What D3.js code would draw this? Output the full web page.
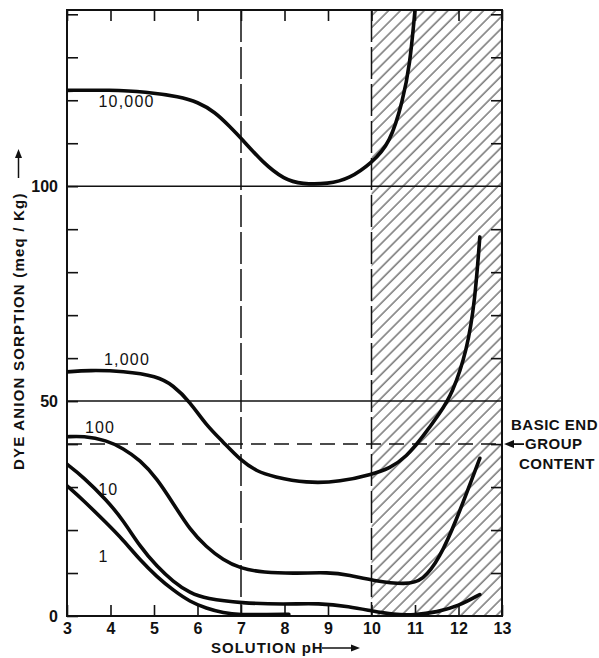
<!DOCTYPE html>
<html>
<head>
<meta charset="utf-8">
<script src="https://cdn.jsdelivr.net/npm/d3@7"></script>
<style>
  body { margin: 0; background: #fff; }
  text { font-family: "Liberation Sans", Arial, sans-serif; fill: #111; }
</style>
</head>
<body>
<div id="chart"></div>
<script>
//////////////////////////////////////////////
// Data //////////////////////////////////////
//////////////////////////////////////////////
// [pH, sorption]
var curve10000 = [[3,122.3],[4,122.4],[4.8,122],[5.6,120.8],[6,119.6],[6.4,117.3],[6.75,113.8],[7,111.2],
  [7.5,105.5],[8,101.5],[8.4,100.5],[9,100.5],[9.5,101.8],[10,105.4],[10.43,110],[10.72,120],[10.88,128],[11.0,141]];
var curve1000 = [[3,56.8],[3.5,57.2],[4.3,57],[5.07,55.8],[5.44,53.7],[5.83,49.8],[6.2,44.4],[6.59,40.5],[6.98,36.3],
  [7.37,33.6],[7.74,32.4],[8.5,30.9],[9.28,31.2],[10.03,33],[10.42,34.4],[10.8,37],[11.18,41.7],[11.57,47.2],
  [11.85,51.5],[12.2,61.9],[12.38,73.5],[12.49,88.2]];
var curve100 = [[3,41.7],[3.37,41.9],[3.91,40.9],[4.29,39],[4.68,36.3],[5.07,32],[5.44,26.2],[5.83,20],[6.2,16.1],
  [6.59,13],[6.98,11.1],[7.5,10.1],[8.3,9.9],[9.0,10.2],[9.5,9.5],[10.03,8.2],[10.8,7.3],[11.18,8.2],[11.57,13.5],
  [11.95,22.3],[12.33,32.4],[12.49,36.7]];
var curve10 = [[3,35.3],[3.37,32.4],[3.91,27],[4.29,22.3],[4.68,16.1],[5.07,11.5],[5.44,8],[5.83,5.3],[6.2,4],
  [7,3],[8,2.7],[8.8,3.0],[9.5,2.2],[10,1.2],[10.5,0.3],[11,0.2],[11.5,0.9],[12,2.3],[12.49,5]];
var curve1 = [[3,30.3],[3.37,27],[3.91,21.6],[4.29,17.7],[4.68,13],[5.07,9.1],[5.44,6],[5.83,3.3],[6.2,1.8],
  [6.59,0.7],[7,0.3],[7.5,0.3],[8.1,0.4]];

var curveLabels = ["10,000", "1,000", "100", "10", "1"];
var labelPos = [[4.37, 119.7], [4.38, 59.6], [3.76, 43.8], [3.95, 29.5], [3.84, 13.8]]; // pH, sorption at label centre

var xTicks = [3,4,5,6,7,8,9,10,11,12,13];
var yTickMarks = [10,20,30,40,60,70,80,90,110,120,130,140];
var yTickLabels = [0, 50, 100];
var solidGrid = [50, 100];
var basicEndGroup = 40;
var dashedPH = [7, 10];
var hatchRange = [10, 13];

//////////////////////////////////////////////
// Chart Config /////////////////////////////
//////////////////////////////////////////////
var margin = {top: 10, right: 97, bottom: 42, left: 67};
var width = 599 - margin.left - margin.right,
    height = 658 - margin.top - margin.bottom;

var xScale = d3.scaleLinear().domain([3, 13]).range([0, width]);
var yScale = d3.scaleLinear().domain([0, 141]).range([height, 0]);

var svg = d3.select("#chart").append("svg")
    .attr("width", 599).attr("height", 658);

var defs = svg.append("defs");
var hatch = defs.append("pattern")
    .attr("id", "hatch")
    .attr("patternUnits", "userSpaceOnUse")
    .attr("width", 8.4).attr("height", 10)
    .attr("patternTransform", "rotate(45)");
hatch.append("line")
    .attr("x1", 1).attr("y1", 0).attr("x2", 1).attr("y2", 10)
    .style("stroke", "#111").style("stroke-width", 0.9);

var artboard = svg.append("g")
    .attr("transform", "translate(" + margin.left + "," + margin.top + ")");

// hatched region
artboard.append("rect")
    .attr("x", xScale(hatchRange[0])).attr("y", 0)
    .attr("width", xScale(hatchRange[1]) - xScale(hatchRange[0]))
    .attr("height", height)
    .style("fill", "url(#hatch)");

// solid horizontal lines
artboard.selectAll(".grid").data(solidGrid).enter().append("line")
    .attr("x1", 0).attr("x2", width)
    .attr("y1", d => yScale(d)).attr("y2", d => yScale(d))
    .style("stroke", "#111").style("stroke-width", 1.5);

// basic end group content dashed line
artboard.append("line")
    .attr("x1", 0).attr("x2", width)
    .attr("y1", yScale(basicEndGroup)).attr("y2", yScale(basicEndGroup))
    .style("stroke", "#111").style("stroke-width", 1.5)
    .style("stroke-dasharray", "15,8");

// vertical dashed lines
artboard.selectAll(".vdash").data(dashedPH).enter().append("line")
    .attr("x1", d => xScale(d)).attr("x2", d => xScale(d))
    .attr("y1", 0).attr("y2", height)
    .style("stroke", "#111").style("stroke-width", 1.5)
    .style("stroke-dasharray", "32,5");

// axes with inward ticks
var xAxis = d3.axisBottom(xScale).tickValues(xTicks).tickSize(-11).tickPadding(15);
var xAxisTop = d3.axisTop(xScale).tickValues(xTicks).tickSize(-11).tickFormat("");
var yAxis = d3.axisLeft(yScale).tickValues(yTickMarks.concat(yTickLabels)).tickSize(-11).tickPadding(9)
    .tickFormat(d => yTickLabels.indexOf(d) >= 0 ? d : "");
var yAxisRight = d3.axisRight(yScale).tickValues(yTickMarks).tickSize(-11).tickFormat("");

var xAxisEl = artboard.append("g").attr("class", "x axis")
    .attr("transform", "translate(0," + height + ")").call(xAxis);
artboard.append("g").attr("class", "x axis").call(xAxisTop);
var yAxisEl = artboard.append("g").attr("class", "y axis").call(yAxis);
artboard.append("g").attr("class", "y axis")
    .attr("transform", "translate(" + width + ",0)").call(yAxisRight);

artboard.selectAll(".axis .domain").remove();
artboard.selectAll(".axis line").style("stroke", "#111").style("stroke-width", 1.6);
artboard.selectAll(".axis text")
    .style("font-size", "16px").style("font-weight", "bold").style("fill", "#111");
xAxisEl.selectAll("text").attr("dy", "0.2em");

// frame
artboard.append("rect")
    .attr("width", width).attr("height", height)
    .style("fill", "none").style("stroke", "#111").style("stroke-width", 2);

//////////////////////////////////////////////
// Drawing ///////////////////////////////////
//////////////////////////////////////////////
var line = d3.line()
    .curve(d3.curveBasis)
    .x(d => xScale(d[0]))
    .y(d => yScale(d[1]));

artboard.append("clipPath").attr("id", "plotclip")
  .append("rect").attr("width", width).attr("height", height);

var curves = [curve10000, curve1000, curve100, curve10, curve1];
artboard.selectAll(".trace").data(curves).enter().append("path")
    .attr("class", "trace")
    .attr("clip-path", "url(#plotclip)")
    .attr("d", line)
    .style("fill", "none")
    .style("stroke", "#0a0a0a")
    .style("stroke-width", 3.6)
    .style("stroke-linecap", "round");

artboard.selectAll(".clabel").data(curveLabels).enter().append("text")
    .attr("x", (d, i) => xScale(labelPos[i][0]))
    .attr("y", (d, i) => yScale(labelPos[i][1]))
    .attr("text-anchor", "middle")
    .attr("dy", "0.35em")
    .style("font-size", "16px")
    .style("letter-spacing", "1.2px")
    .text(d => d);

// basic end group annotation
var yBE = yScale(basicEndGroup);
artboard.append("line")
    .attr("x1", width + 22).attr("x2", width + 9)
    .attr("y1", yBE).attr("y2", yBE)
    .style("stroke", "#111").style("stroke-width", 1.8);
artboard.append("path")
    .attr("d", "M" + (width + 2) + "," + yBE + "l10,-4l0,8z")
    .style("fill", "#111");
var note = artboard.append("g").style("font-size", "15px").style("font-weight", "bold").style("letter-spacing", "0.5px");
note.append("text").attr("x", width + 9).attr("y", yBE - 19).attr("dy", "0.35em").text("BASIC END");
note.append("text").attr("x", width + 23).attr("y", yBE).attr("dy", "0.35em").text("GROUP");
note.append("text").attr("x", width + 17).attr("y", yBE + 20).attr("dy", "0.35em").text("CONTENT");

// axis titles
svg.append("text")
    .attr("x", 211).attr("y", 653)
    .style("font-size", "15px").style("font-weight", "bold").style("letter-spacing", "1px")
    .text("SOLUTION pH");
svg.append("line")
    .attr("x1", 322).attr("x2", 352).attr("y1", 648).attr("y2", 648)
    .style("stroke", "#111").style("stroke-width", 1.5);
svg.append("path").attr("d", "M360,648l-9,-3.5l0,7z").style("fill", "#111");

svg.append("text")
    .attr("transform", "translate(24,470) rotate(-90)")
    .style("font-size", "15px").style("font-weight", "bold").style("letter-spacing", "1.2px")
    .text("DYE ANION SORPTION (meq / Kg)");
svg.append("line")
    .attr("x1", 18.5).attr("x2", 18.5).attr("y1", 178).attr("y2", 158)
    .style("stroke", "#111").style("stroke-width", 1.5);
svg.append("path").attr("d", "M18.5,149l-3.5,9l7,0z").style("fill", "#111");
</script>
</body>
</html>
